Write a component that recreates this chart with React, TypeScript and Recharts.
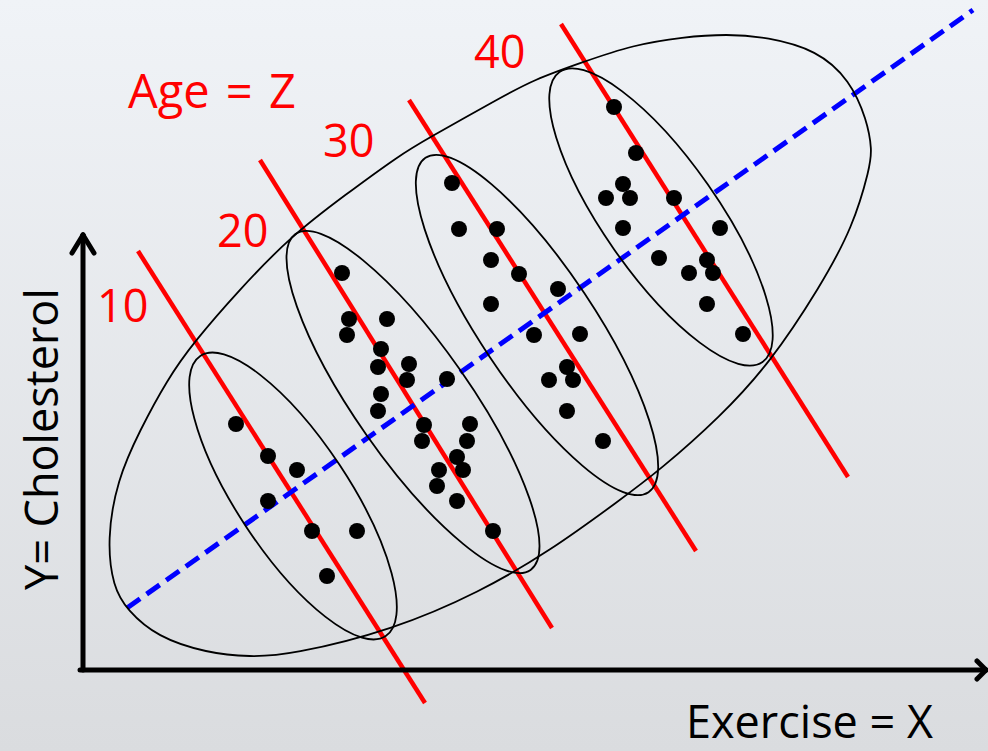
import { ScatterChart, Scatter, XAxis, YAxis, ReferenceLine, ReferenceDot } from "recharts";

const W = 988;
const H = 751;
// chart units: exercise (x) and cholesterol (y), origin at the axes corner
const X_DOMAIN: [number, number] = [-8.3, 90.5];
const Y_DOMAIN: [number, number] = [-8.1, 67.0];
const PX = W / (X_DOMAIN[1] - X_DOMAIN[0]);

const RED = "#FF0000";
const BLUE = "#0000FF";
const INK = "#000000";
const FONT = '"Open Sans", "Noto Sans", sans-serif';

// observations per age group
const age10 = [
  { x: 15.3, y: 24.6 }, { x: 18.5, y: 21.4 }, { x: 21.4, y: 20.0 }, { x: 18.5, y: 16.9 },
  { x: 22.9, y: 13.9 }, { x: 27.4, y: 13.9 }, { x: 24.4, y: 9.4 },
];
const age20 = [
  { x: 25.9, y: 39.7 }, { x: 26.6, y: 35.1 }, { x: 30.4, y: 35.1 }, { x: 26.4, y: 33.5 },
  { x: 29.8, y: 32.1 }, { x: 29.5, y: 30.3 }, { x: 32.6, y: 30.6 }, { x: 32.4, y: 29.0 },
  { x: 36.4, y: 29.1 }, { x: 29.8, y: 27.6 }, { x: 29.5, y: 25.9 }, { x: 34.1, y: 24.5 },
  { x: 38.7, y: 24.6 }, { x: 33.9, y: 22.9 }, { x: 38.4, y: 22.9 }, { x: 37.4, y: 21.3 },
  { x: 35.6, y: 20.0 }, { x: 38.0, y: 20.0 }, { x: 35.4, y: 18.4 }, { x: 37.4, y: 16.9 },
  { x: 41.0, y: 13.9 },
];
const age30 = [
  { x: 36.9, y: 48.7 }, { x: 37.6, y: 44.1 }, { x: 41.4, y: 44.1 }, { x: 40.8, y: 41.0 },
  { x: 43.6, y: 39.6 }, { x: 47.5, y: 38.1 }, { x: 40.8, y: 36.6 }, { x: 45.1, y: 33.5 },
  { x: 49.7, y: 33.6 }, { x: 48.4, y: 30.3 }, { x: 46.6, y: 29.0 }, { x: 49.0, y: 29.0 },
  { x: 48.4, y: 25.9 }, { x: 52.0, y: 22.9 },
];
const age40 = [
  { x: 53.1, y: 56.3 }, { x: 55.3, y: 51.7 }, { x: 54.0, y: 48.6 }, { x: 52.3, y: 47.2 },
  { x: 54.7, y: 47.2 }, { x: 59.1, y: 47.2 }, { x: 54.0, y: 44.2 }, { x: 63.7, y: 44.2 },
  { x: 57.6, y: 41.2 }, { x: 62.4, y: 41.0 }, { x: 60.6, y: 39.7 }, { x: 63.0, y: 39.7 },
  { x: 62.4, y: 36.6 }, { x: 66.0, y: 33.6 },
];
const groups = [age10, age20, age30, age40];

// within-group fits (one per age)
const ageLabels = ["10", "20", "30", "40"];
const ageLines = [
  [{ x: 5.5, y: 41.9 }, { x: 34.2, y: -3.3 }],
  [{ x: 17.7, y: 51.0 }, { x: 46.9, y: 4.2 }],
  [{ x: 32.6, y: 57.0 }, { x: 61.3, y: 11.9 }],
  [{ x: 47.8, y: 64.6 }, { x: 76.5, y: 19.3 }],
];

// pooled trend
const trendLine = [{ x: 4.4, y: 6.2 }, { x: 89.0, y: 66.0 }];

// group ellipses: centre, semi axes (chart units), tilt in degrees
const groupEllipses = [
  { x: 21.0, y: 17.4, a: 16.8, b: 5.6, tilt: 56.5 },
  { x: 33.0, y: 26.8, a: 20.5, b: 5.7, tilt: 55 },
  { x: 45.4, y: 34.5, a: 20.1, b: 5.7, tilt: 56.3 },
  { x: 57.8, y: 45.3, a: 17.7, b: 5.7, tilt: 55 },
];

// outline around all observations
const overallOutline = [
  { x: 2.4, y: 13.0 }, { x: 3.4, y: 19.0 }, { x: 5.7, y: 24.0 }, { x: 8.4, y: 29.0 },
  { x: 11.0, y: 32.7 }, { x: 15.7, y: 38.1 }, { x: 20.7, y: 43.3 }, { x: 26.2, y: 47.5 },
  { x: 31.7, y: 51.5 }, { x: 34.2, y: 53.0 }, { x: 41.7, y: 57.2 }, { x: 45.0, y: 59.0 },
  { x: 50.0, y: 60.8 }, { x: 55.0, y: 62.5 }, { x: 60.0, y: 63.3 }, { x: 64.4, y: 63.6 },
  { x: 68.4, y: 63.3 }, { x: 73.4, y: 62.0 }, { x: 76.7, y: 59.0 }, { x: 78.4, y: 55.0 },
  { x: 78.9, y: 52.0 }, { x: 78.7, y: 50.3 }, { x: 77.0, y: 44.3 }, { x: 73.7, y: 38.3 },
  { x: 68.7, y: 30.7 }, { x: 63.7, y: 25.3 }, { x: 57.7, y: 20.0 }, { x: 53.7, y: 17.0 },
  { x: 46.7, y: 11.9 }, { x: 39.7, y: 7.8 }, { x: 31.0, y: 4.0 }, { x: 20.7, y: 1.5 },
  { x: 16.7, y: 1.3 }, { x: 12.4, y: 1.7 }, { x: 7.4, y: 3.3 }, { x: 4.4, y: 6.0 },
  { x: 3.0, y: 8.3 },
];

// axis arrows
const yAxisArrow = [
  [{ x: 0, y: 0 }, { x: 0, y: 43.5 }],
  [{ x: -1.1, y: 41.7 }, { x: 0, y: 43.5 }],
  [{ x: 1.1, y: 41.7 }, { x: 0, y: 43.5 }],
];
const xAxisArrow = [
  [{ x: -0.3, y: 0 }, { x: 90.3, y: 0 }],
  [{ x: 89.4, y: 0.9 }, { x: 90.3, y: 0 }],
  [{ x: 89.4, y: -0.9 }, { x: 90.3, y: 0 }],
];

const Dot = (p: any) => <circle cx={p.cx} cy={p.cy} r={8} fill={INK} />;
const NoDot = () => <g />;

const makeEllipse = (e: { a: number; b: number; tilt: number }) => (p: any) => (
  <ellipse
    cx={p.cx}
    cy={p.cy}
    rx={e.a * PX}
    ry={e.b * PX}
    transform={`rotate(${e.tilt} ${p.cx} ${p.cy})`}
    fill="none"
    stroke={INK}
    strokeWidth={1.8}
  />
);

export default function App() {
  return (
    <div
      style={{
        position: "absolute",
        left: 0,
        top: 0,
        width: W,
        height: H,
        background: "linear-gradient(#F0F3F7, #DADCDF)",
      }}
    >
      <ScatterChart width={W} height={H} margin={{ top: 0, right: 0, bottom: 0, left: 0 }}>
        <XAxis type="number" dataKey="x" domain={X_DOMAIN} allowDataOverflow hide />
        <YAxis type="number" dataKey="y" domain={Y_DOMAIN} allowDataOverflow hide />

        <Scatter
          data={overallOutline}
          fill={INK}
          line={{ stroke: INK, strokeWidth: 1.8 }}
          lineType="joint"
          lineJointType="basisClosed"
          shape={NoDot}
          isAnimationActive={false}
        />
        {groupEllipses.map((e, i) => (
          <ReferenceDot key={`e${i}`} x={e.x} y={e.y} r={0} shape={makeEllipse(e)} />
        ))}

        {groups.map((g, i) => (
          <Scatter key={`g${i}`} data={g} fill={INK} shape={Dot} isAnimationActive={false} />
        ))}

        {ageLines.map((seg, i) => (
          <ReferenceLine key={`l${i}`} segment={seg} stroke={RED} strokeWidth={4.5} />
        ))}
        <ReferenceLine segment={trendLine} stroke={BLUE} strokeWidth={5} strokeDasharray="16 8" />

        {yAxisArrow.map((seg, i) => (
          <ReferenceLine key={`ya${i}`} segment={seg} stroke={INK} strokeWidth={5} strokeLinecap="round" />
        ))}
        {xAxisArrow.map((seg, i) => (
          <ReferenceLine key={`xa${i}`} segment={seg} stroke={INK} strokeWidth={5} strokeLinecap="round" />
        ))}
      </ScatterChart>

      <svg
        width={W}
        height={H}
        style={{ position: "absolute", left: 0, top: 0, pointerEvents: "none" }}
        fontFamily={FONT}
      >
        <text x={128} y={108} fill={RED} fontSize={47} wordSpacing={4}>Age = Z</text>
        {ageLabels.map((t, i) => (
          <text key={t} x={[97, 217, 323, 474][i]} y={[322, 247, 157, 68][i]} fill={RED} fontSize={45}>
            {t}
          </text>
        ))}
        <text x={686} y={738} fill={INK} fontSize={45}>Exercise = X</text>
        <text x={58} y={590} fill={INK} fontSize={45} transform="rotate(-90 58 590)">
          Y= Cholesterol
        </text>
      </svg>
    </div>
  );
}
